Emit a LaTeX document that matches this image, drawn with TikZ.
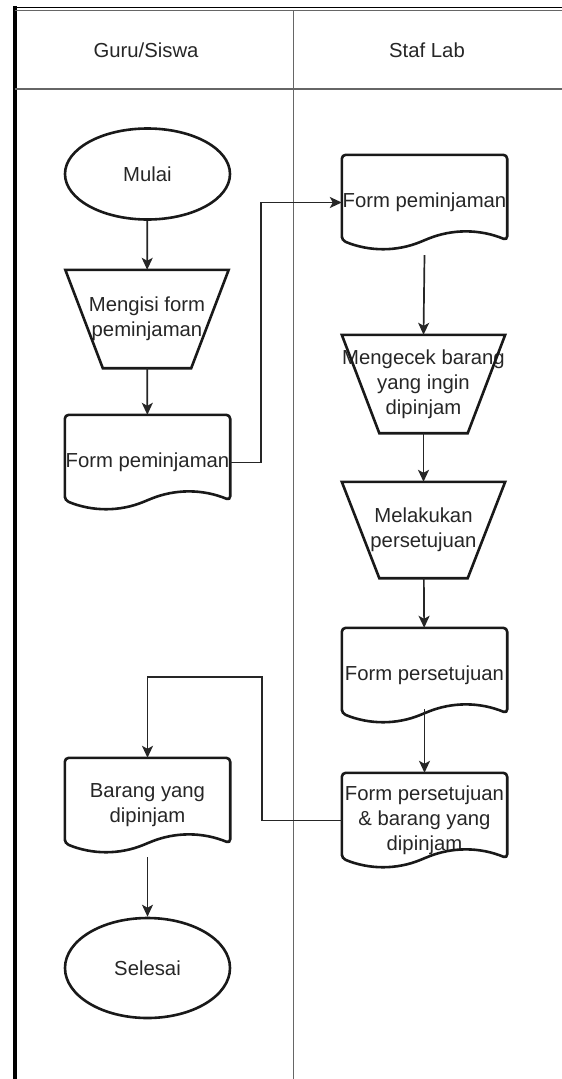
\documentclass[tikz,border=0pt]{standalone}
\usepackage{fontspec}
\setmainfont{Liberation Sans}
\usetikzlibrary{arrows.meta,shapes.geometric}
\newcommand\docout[1]{%
  \draw[shp, rounded corners=4pt] ([yshift=-85.5pt]#1.north west) -- (#1.north west) -- (#1.north east) -- ([yshift=-85.5pt]#1.north east)
   .. controls ([xshift=-27.5pt,yshift=-74.1pt]#1.north east) and ([xshift=-55pt,yshift=-74.1pt]#1.north east) .. ([xshift=82.5pt,yshift=-85.5pt]#1.north west)
   .. controls ([xshift=55pt,yshift=-96.9pt]#1.north west) and ([xshift=27.5pt,yshift=-96.9pt]#1.north west) .. ([yshift=-85.5pt]#1.north west) -- cycle;}
\newcommand\trapout[1]{%
  \draw[shp] (#1.north west) -- (#1.north east) -- ([xshift=-37.5pt]#1.south east) -- ([xshift=37.5pt]#1.south west) -- cycle;}
\begin{document}
\begin{tikzpicture}[x=1pt,y=-1pt,
  shp/.style={line width=2.6pt, draw=black!90},
  conn/.style={line width=1.7pt, draw=black!85, -{Stealth[length=12pt,width=11pt,inset=3pt]}},
  lbl/.style={font=\fontsize{20.3}{25}\selectfont, text=black!85, align=center, inner sep=0pt},
  lane/.style={draw=black!60, line width=1.8pt},
  term/.style={lbl, shp, ellipse, minimum width=165pt},
  docbox/.style={lbl, minimum width=165pt, minimum height=95pt},
  trapbox/.style={lbl, minimum width=163pt},
]
\useasboundingbox (0,0) rectangle (562,1079);
% frame
\draw[line width=4pt, black] (14.5,6) -- (14.5,1079);
\draw[line width=1.8pt, black] (14.5,7.5) -- (562,7.5);
\draw[line width=1.5pt, black!60] (14.5,10.5) -- (562,10.5);
\draw[lane] (14.5,89) -- (562,89);
\draw[lane] (293.5,10.5) -- (293.5,1079);
\node[lbl] (h1) at (146,50) {Guru/Siswa};
\node[lbl] (h2) at (427,50) {Staf Lab};
% left lane
\node[term, minimum height=91pt] (m) at (147.5,174) {Mulai};
\node[trapbox, minimum height=98pt] (t1) at (147,319) {Mengisi form\\peminjaman};
\trapout{t1}
\node[docbox] (d1) at (147.5,462.5) {Form peminjaman};
\docout{d1}
\node[docbox] (d5) at (147.5,805.5) {Barang yang\\dipinjam};
\docout{d5}
\node[term, minimum height=100pt] (s) at (147.5,968) {Selesai};
% right lane
\node[docbox] (d2) at (424.5,202.5) {Form peminjaman};
\docout{d2}
\node[trapbox, minimum height=98pt] (t2) at (423.5,384) {Mengecek barang\\yang ingin\\dipinjam};
\trapout{t2}
\node[trapbox, minimum height=96pt] (t3) at (423.5,530) {Melakukan\\persetujuan};
\trapout{t3}
\node[docbox] (d3) at (424.5,675.5) {Form persetujuan};
\docout{d3}
\node[docbox] (d4) at (424.5,820.5) {Form persetujuan\\\& barang yang\\dipinjam};
\docout{d4}
% connectors
\coordinate (j1) at (261,300);
\coordinate (j2) at (262,677);
\draw[conn] (m) -- (t1);
\draw[conn] (t1) -- (d1);
\draw[conn] (d1.east) -- (d1.east -| j1) -- (j1 |- d2.west) -- (d2.west);
\draw[conn] ([yshift=-5pt]d2.south) -- (t2.north);
\draw[conn] (t2) -- (t3);
\draw[conn] (t3) -- (d3);
\draw[conn] ([yshift=14pt]d3.south) -- (d4.north);
\draw[conn] (d4.west) -| (j2) -| (d5.north);
\draw[conn] ([yshift=-4pt]d5.south) -- (s);
\end{tikzpicture}
\end{document}
